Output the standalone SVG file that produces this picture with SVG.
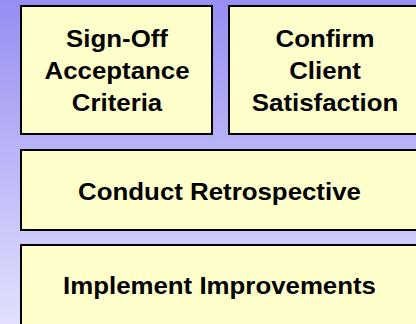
<svg xmlns="http://www.w3.org/2000/svg" width="416" height="324" viewBox="0 0 416 324">
  <defs>
    <linearGradient id="bg" x1="0" y1="0" x2="0" y2="1">
      <stop offset="0" stop-color="#968ef2"/>
      <stop offset="1" stop-color="#e2e0fd"/>
    </linearGradient>
  </defs>
  <style>
    .box { fill: #ffffcc; stroke: #000000; stroke-width: 2; }
    .lbl { font-family: "Liberation Sans", Arial, sans-serif; font-weight: bold; font-size: 23.5px; fill: #000000; text-anchor: middle; }
  </style>
  <rect x="0" y="0" width="416" height="324" fill="url(#bg)"/>
  <g id="connectors"></g>
  <g id="node-signoff">
    <rect class="box" x="21" y="6" width="191" height="128"/>
    <text class="lbl" transform="translate(117,47) scale(1.1,1)">Sign-Off</text>
    <text class="lbl" transform="translate(117,79) scale(1.1,1)">Acceptance</text>
    <text class="lbl" transform="translate(117,111) scale(1.1,1)">Criteria</text>
  </g>
  <g id="node-confirm">
    <rect class="box" x="229" y="6" width="191" height="128"/>
    <text class="lbl" transform="translate(325,47) scale(1.1,1)">Confirm</text>
    <text class="lbl" transform="translate(325,79) scale(1.1,1)">Client</text>
    <text class="lbl" transform="translate(325,111) scale(1.1,1)">Satisfaction</text>
  </g>
  <g id="node-retro">
    <rect class="box" x="21" y="150" width="398" height="80"/>
    <text class="lbl" transform="translate(219.5,199.5) scale(1.1,1)">Conduct Retrospective</text>
  </g>
  <g id="node-improve">
    <rect class="box" x="21" y="245" width="398" height="82"/>
    <text class="lbl" transform="translate(219.5,293.5) scale(1.1,1)">Implement Improvements</text>
  </g>
</svg>
